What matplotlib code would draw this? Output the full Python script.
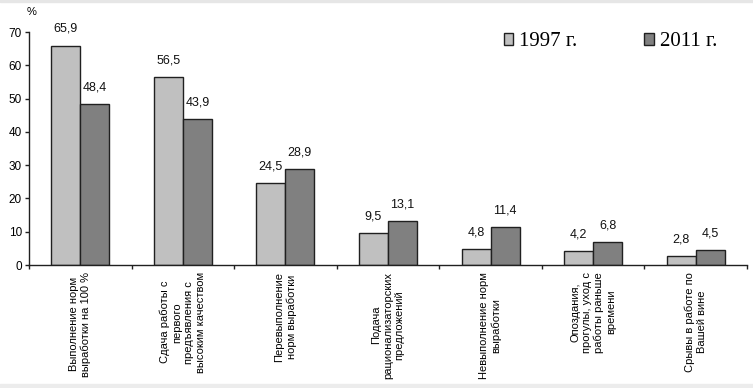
import numpy as np
import matplotlib
matplotlib.use('Agg')
import matplotlib.pyplot as plt
from matplotlib.patches import Rectangle

# Данные
categories = [
    'Выполнение норм\nвыработки на 100 %',
    'Сдача работы с\nпервого\nпредъявления с\nвысоким качеством',
    'Перевыполнение\nнорм выработки',
    'Подача\nрационализаторских\nпредложений',
    'Невыполнение норм\nвыработки',
    'Опоздания,\nпрогулы, уход с\nработы раньше\nвремени',
    'Срывы в работе по\nВашей вине',
]
values_1997 = [65.9, 56.5, 24.5, 9.5, 4.8, 4.2, 2.8]
values_2011 = [48.4, 43.9, 28.9, 13.1, 11.4, 6.8, 4.5]
series_names = ['1997 г.', '2011 г.']
y_ticks = [0, 10, 20, 30, 40, 50, 60, 70]

plt.rcParams['font.family'] = ['Liberation Sans', 'DejaVu Sans']

fig = plt.figure(figsize=(7.53, 3.88), dpi=100)
ax = fig.add_axes([0.0385, 0.317, 0.9535, 0.6005])

x = np.arange(len(categories))
w = 0.283
edge = '#202020'
b1 = ax.bar(x - w / 2, values_1997, w, color='#c0c0c0', edgecolor=edge, linewidth=1.0)
b2 = ax.bar(x + w / 2, values_2011, w, color='#808080', edgecolor=edge, linewidth=1.0)

for bars, vals in ((b1, values_1997), (b2, values_2011)):
    for rect, v in zip(bars, vals):
        ax.annotate(f'{v:.1f}'.replace('.', ','),
                    (rect.get_x() + rect.get_width() / 2, rect.get_height()),
                    xytext=(0, 12), textcoords='offset points',
                    ha='center', va='center', fontsize=9, color='#111111')

ax.set_xlim(-0.5, len(categories) - 0.5)
ax.set_ylim(0, 70)
ax.set_yticks(y_ticks)
ax.tick_params(axis='y', labelsize=8.5, length=3, width=1, color='#202020', pad=2)

# разделители категорий на оси X
ax.set_xticks(np.arange(len(categories) + 1) - 0.5)
ax.set_xticklabels([])
ax.tick_params(axis='x', length=3, width=1, color='#202020')
for i, lab in enumerate(categories):
    ax.text(i, -2.0, lab, rotation=90, ha='center', va='top',
            multialignment='center', fontsize=8, linespacing=1.22)

for s in ('top', 'right'):
    ax.spines[s].set_visible(False)
for s in ('left', 'bottom'):
    ax.spines[s].set_color('#202020')
    ax.spines[s].set_linewidth(1)

fig.text(0.0425, 0.969, '%', ha='center', va='center', fontsize=8)

leg = ax.legend([b1, b2], series_names, ncol=2, frameon=False,
                loc='center', bbox_to_anchor=(0.81, 0.9575),
                prop={'family': 'Liberation Serif', 'size': 15},
                handlelength=0.45, handleheight=0.45, handletextpad=0.3,
                columnspacing=3.2, borderaxespad=0)

# светло-серая рамка снизу и сверху
fig.patches.append(Rectangle((0, 0), 1, 0.011, transform=fig.transFigure,
                             color='#ececec', zorder=0))
fig.patches.append(Rectangle((0, 0.995), 1, 0.005, transform=fig.transFigure,
                             color='#e6e6e6', zorder=0))

fig.savefig('out.png', dpi=100)
